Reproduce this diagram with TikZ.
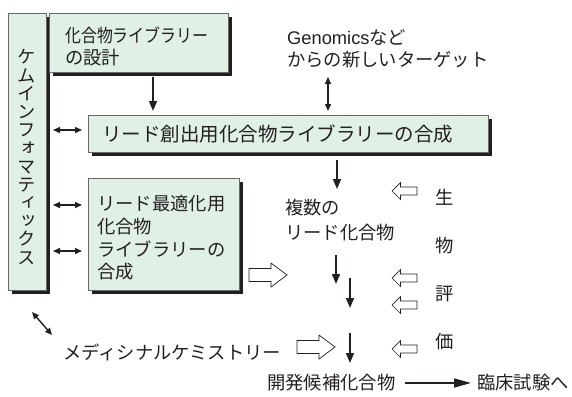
\documentclass[tikz,border=0pt]{standalone}
\usepackage{graphicx}
\usepackage{fontspec}
\setmainfont{Noto Sans CJK JP}
\newfontfamily\vertfont[RawFeature=+vert]{Noto Sans CJK JP}
\newfontfamily\latinfont{Liberation Sans}
\usetikzlibrary{arrows.meta,shadows}
\definecolor{ink}{RGB}{35,31,32}
\definecolor{boxfill}{RGB}{224,240,228}
\definecolor{boxline}{RGB}{105,105,108}
\begin{document}
\begin{tikzpicture}[x=1pt,y=-1pt,
  box/.style={draw=boxline, line width=0.7pt, fill=boxfill, inner sep=0pt,
    drop shadow={shadow xshift=4pt, shadow yshift=-4pt, opacity=1, fill=ink}},
  txt/.style={inner sep=0pt, text=ink, font=\fontsize{18.3}{22}\selectfont, anchor=west, align=left},
  arr/.style={draw=ink, line width=1.6pt, -{Triangle[length=10pt,width=8pt]}},
  darr/.style={draw=ink, line width=1.4pt, {Triangle[length=7pt,width=6pt]}-{Triangle[length=7pt,width=6pt]}},
  bigR/.pic={\draw[draw=ink, line width=0.7pt, fill=white]
     (-19,-6.5) -- (3,-6.5) -- (3,-12) -- (19,0) -- (3,12) -- (3,6.5) -- (-19,6.5) -- cycle;},
  smallL/.pic={\draw[draw=ink, line width=0.7pt, fill=white]
     (12.5,-4) -- (-4,-4) -- (-4,-8.5) -- (-12.5,0) -- (-4,8.5) -- (-4,4) -- (12.5,4) -- cycle;}
]
\useasboundingbox (0,0) rectangle (572,396);

% boxes
\node[box, minimum width=38pt, minimum height=277pt] (chem) at (27,151.5) {};
\node[box, minimum width=179pt, minimum height=59pt] (box1) at (138.5,42.5) {};
\node[box, minimum width=400pt, minimum height=37pt] (big) at (288,133.5) {};
\node[box, minimum width=151pt, minimum height=112pt] (opt) at (163.5,234) {};

% texts
\node[inner sep=0pt, text=ink, align=center, font=\vertfont\fontsize{18.3}{18.2}\selectfont] (chemtxt) at (27,157)
  {ケ\\ム\\イ\\ン\\フ\\ォ\\マ\\テ\\ィ\\ッ\\ク\\ス};
\node[txt] (t1) at (65,46) {\scalebox{0.87}[1]{化合物ライブラリー}\\の設計};
\node[txt, font=\fontsize{19.5}{22}\selectfont] (t2) at (102,134) {リード創出用化合物ライブラリーの合成};
\node[txt, font=\fontsize{18.3}{22.7}\selectfont] (t3) at (97,238) {リード最適化用\\化合物\\ライブラリーの\\合成};
\node[txt] (gen) at (287,49) {{\latinfont Genomics}など\\からの新しいターゲット};
\node[txt, font=\fontsize{18.3}{25}\selectfont] (lead) at (285,220.5) {複数の\\リード化合物};
\node[txt] (med) at (63,352) {メディシナルケミストリー};
\node[txt] (cand) at (267,383) {開発候補化合物};
\node[txt] (clin) at (477,383) {臨床試験へ};
\node[txt, anchor=center, align=center, font=\fontsize{18.3}{48}\selectfont] (bio) at (445,270) {生\\物\\評\\価};

% connector end points
\coordinate (a1s) at (153,77);   \coordinate (a1e) at (153,111);
\coordinate (g1s) at (328,77);   \coordinate (g1e) at (328,111);
\coordinate (b1s) at (337,160);  \coordinate (b1e) at (337,189);
\coordinate (l1s) at (336,255);  \coordinate (l1e) at (336,284);
\coordinate (l2s) at (350,278);  \coordinate (l2e) at (350,308);
\coordinate (l3s) at (350,333);  \coordinate (l3e) at (350,363);
\coordinate (d1s) at (53,130);   \coordinate (d1e) at (82,130);
\coordinate (d2s) at (53,205);   \coordinate (d2e) at (82,205);
\coordinate (d3s) at (53,251);   \coordinate (d3e) at (82,251);
\coordinate (m1s) at (32,312);   \coordinate (m1e) at (52,335);
\coordinate (c1s) at (405,383);  \coordinate (c1e) at (471,383);

\draw[arr] (a1s) -- (a1e);
\draw[darr] (g1s) -- (g1e);
\draw[arr] (b1s) -- (b1e);
\draw[arr] (l1s) -- (l1e);
\draw[arr] (l2s) -- (l2e);
\draw[arr] (l3s) -- (l3e);
\draw[darr] (d1s) -- (d1e);
\draw[darr] (d2s) -- (d2e);
\draw[darr] (d3s) -- (d3e);
\draw[darr] (m1s) -- (m1e);
\draw[draw=ink, line width=1.5pt, -{Triangle[length=17pt,width=9pt]}] (c1s) -- (c1e);

% hollow arrows
\pic (h1) at (268,275) {bigR};
\pic (h2) at (316,347) {bigR};
\pic (s1) at (404.5,191) {smallL};
\pic (s2) at (404.5,278) {smallL};
\pic (s3) at (404.5,305) {smallL};
\pic (s4) at (404.5,349) {smallL};
\end{tikzpicture}
\end{document}
